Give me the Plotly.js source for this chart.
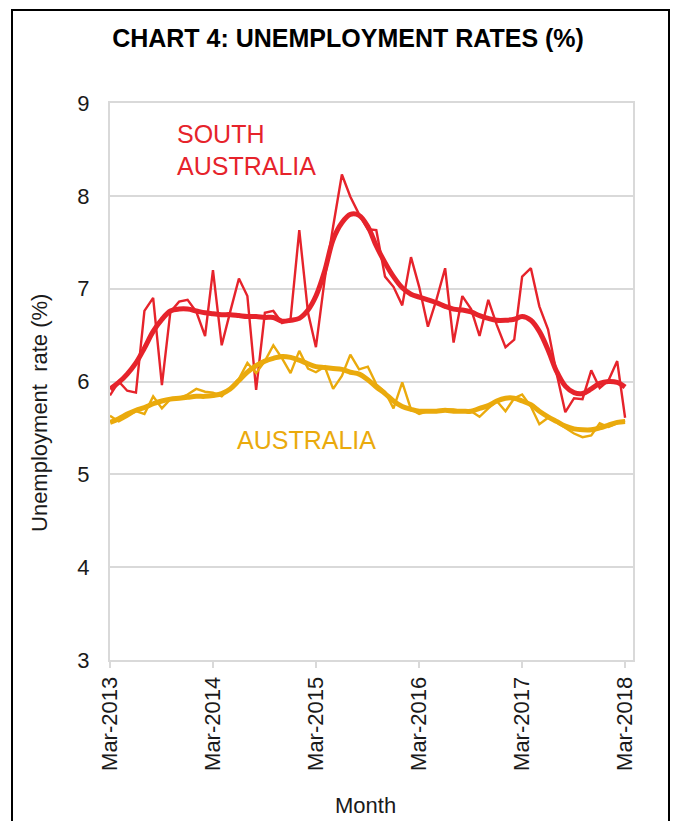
<!DOCTYPE html>
<html>
<head>
<meta charset="utf-8">
<script src="https://cdn.plot.ly/plotly-3.0.1.min.js"></script>
<style>
  html, body { margin: 0; padding: 0; background: #fff; }
  #wrap { position: relative; width: 675px; height: 821px; overflow: hidden; }
  #chart { position: absolute; left: 0; top: 0; width: 675px; height: 821px; }
  #frame { position: absolute; left: 11px; top: 9px; width: 655px; height: 900px; border: 2px solid #000; pointer-events: none; }
</style>
</head>
<body>
<div id="wrap">
  <div id="chart"></div>
  <div id="frame"></div>
</div>
<script>
// Months: Mar-2013 .. Mar-2018 (61 monthly observations)
const months = [];
for (let k = 0; k < 61; k++) {
  const y = 2013 + Math.floor((2 + k) / 12);
  const m = ((2 + k) % 12) + 1;
  months.push(y + '-' + String(m).padStart(2, '0') + '-01');
}

const tickDates = ['2013-03-01', '2014-03-01', '2015-03-01', '2016-03-01', '2017-03-01', '2018-03-01'];
const tickLabels = ['Mar-2013', 'Mar-2014', 'Mar-2015', 'Mar-2016', 'Mar-2017', 'Mar-2018'];

const saMonthly = [5.85, 6.00, 5.90, 5.88, 6.76, 6.90, 5.96, 6.75, 6.86, 6.88,
                   6.75, 6.49, 7.20, 6.39, 6.75, 7.11, 6.92, 5.91, 6.74, 6.76,
                   6.63, 6.67, 7.63, 6.74, 6.37, 7.10, 7.67, 8.23, 7.99, 7.80,
                   7.64, 7.63, 7.13, 7.02, 6.82, 7.34, 7.02, 6.59, 6.88, 7.22,
                   6.42, 6.92, 6.78, 6.49, 6.88, 6.61, 6.37, 6.45, 7.13, 7.22,
                   6.81, 6.56, 6.09, 5.67, 5.82, 5.81, 6.12, 5.93, 6.01, 6.22, 5.61];

const saTrend = [5.92, 5.99, 6.08, 6.20, 6.36, 6.54, 6.67, 6.76, 6.78, 6.78,
                 6.76, 6.74, 6.73, 6.72, 6.72, 6.71, 6.70, 6.70, 6.69, 6.69,
                 6.65, 6.66, 6.68, 6.77, 6.92, 7.19, 7.53, 7.71, 7.80, 7.79,
                 7.67, 7.46, 7.28, 7.13, 7.01, 6.94, 6.91, 6.88, 6.85, 6.81,
                 6.78, 6.77, 6.75, 6.71, 6.68, 6.66, 6.66, 6.67, 6.70, 6.66,
                 6.54, 6.34, 6.11, 5.95, 5.88, 5.87, 5.92, 5.98, 6.00, 5.99, 5.94];

const ausMonthly = [5.63, 5.57, 5.62, 5.68, 5.65, 5.84, 5.71, 5.81, 5.82, 5.86,
                    5.92, 5.89, 5.88, 5.84, 5.93, 6.03, 6.20, 6.09, 6.22, 6.39,
                    6.25, 6.09, 6.33, 6.14, 6.10, 6.16, 5.92, 6.06, 6.29, 6.13,
                    6.16, 5.97, 5.89, 5.71, 5.99, 5.70, 5.65, 5.68, 5.68, 5.70,
                    5.70, 5.68, 5.68, 5.62, 5.71, 5.79, 5.68, 5.82, 5.86, 5.73,
                    5.54, 5.61, 5.56, 5.50, 5.44, 5.40, 5.42, 5.55, 5.51, 5.55, 5.58];

const ausTrend = [5.56, 5.60, 5.65, 5.69, 5.72, 5.76, 5.79, 5.81, 5.82, 5.83,
                  5.84, 5.84, 5.85, 5.87, 5.92, 6.01, 6.10, 6.17, 6.22, 6.25,
                  6.27, 6.26, 6.23, 6.19, 6.16, 6.15, 6.14, 6.13, 6.10, 6.08,
                  6.02, 5.94, 5.87, 5.79, 5.73, 5.70, 5.68, 5.68, 5.68, 5.69,
                  5.68, 5.68, 5.68, 5.71, 5.74, 5.79, 5.82, 5.82, 5.79, 5.75,
                  5.68, 5.62, 5.57, 5.52, 5.49, 5.48, 5.48, 5.50, 5.53, 5.56, 5.57];

const RED = '#e6232b';
const YEL = '#eaaa0c';
const FONT = 'Liberation Sans, Arial, sans-serif';

const traces = [
  { x: months, y: saMonthly, type: 'scatter', mode: 'lines', line: { color: RED, width: 2.4 }, hoverinfo: 'skip' },
  { x: months, y: saTrend, type: 'scatter', mode: 'lines', line: { color: RED, width: 5, shape: 'spline', smoothing: 1 }, hoverinfo: 'skip' },
  { x: months, y: ausMonthly, type: 'scatter', mode: 'lines', line: { color: YEL, width: 2.4 }, hoverinfo: 'skip' },
  { x: months, y: ausTrend, type: 'scatter', mode: 'lines', line: { color: YEL, width: 5, shape: 'spline', smoothing: 1 }, hoverinfo: 'skip' }
];

const layout = {
  width: 675, height: 821,
  margin: { l: 110, r: 42, t: 103, b: 161 },
  paper_bgcolor: 'rgba(0,0,0,0)', plot_bgcolor: '#fff',
  showlegend: false,
  font: { family: FONT, color: '#1a1a1a', size: 22 },
  title: {
    text: 'CHART 4: UNEMPLOYMENT RATES (%)',
    font: { family: FONT, size: 25, color: '#000', weight: 700 },
    x: 0.5156, xanchor: 'center', y: 0.9537, yanchor: 'middle', xref: 'container', yref: 'container'
  },
  xaxis: {
    type: 'date',
    range: ['2013-03-01', '2018-03-29'],
    tickmode: 'array', tickvals: tickDates, ticktext: tickLabels,
    tickangle: -90,
    tickfont: { family: FONT, size: 22, color: '#1a1a1a' },
    ticks: 'outside', ticklen: 6, tickwidth: 2, tickcolor: '#d9d9d9',
    showgrid: false, zeroline: false,
    showline: true, linecolor: '#d9d9d9', linewidth: 2, mirror: true,
    fixedrange: true
  },
  yaxis: {
    range: [3, 9], dtick: 1, tick0: 3,
    tickfont: { family: FONT, size: 22, color: '#1a1a1a' },
    ticks: '', ticklabelstandoff: 14,
    showgrid: true, gridcolor: '#d9d9d9', gridwidth: 2,
    zeroline: false,
    showline: true, linecolor: '#d9d9d9', linewidth: 2, mirror: true,
    fixedrange: true
  },
  annotations: [
    { text: 'SOUTH', xref: 'paper', yref: 'paper', x: 0.1243, y: 0.944, xanchor: 'left', yanchor: 'middle',
      showarrow: false, font: { family: FONT, size: 25, color: RED } },
    { text: 'AUSTRALIA', xref: 'paper', yref: 'paper', x: 0.1243, y: 0.887, xanchor: 'left', yanchor: 'middle',
      showarrow: false, font: { family: FONT, size: 25, color: RED } },
    { text: 'AUSTRALIA', xref: 'paper', yref: 'paper', x: 0.239, y: 0.395, xanchor: 'left', yanchor: 'middle',
      showarrow: false, font: { family: FONT, size: 25, color: YEL } },
    { text: 'Unemployment\u00a0 rate (%)', xref: 'paper', yref: 'paper', x: -0.1338, y: 0.4435, xanchor: 'center', yanchor: 'middle',
      textangle: -90, showarrow: false, font: { family: FONT, size: 22, color: '#1a1a1a' } },
    { text: 'Month', xref: 'paper', yref: 'paper', x: 0.4876, y: -0.262, xanchor: 'center', yanchor: 'middle',
      showarrow: false, font: { family: FONT, size: 22, color: '#1a1a1a' } }
  ]
};

Plotly.newPlot('chart', traces, layout, { staticPlot: true, displayModeBar: false });
</script>
</body>
</html>
